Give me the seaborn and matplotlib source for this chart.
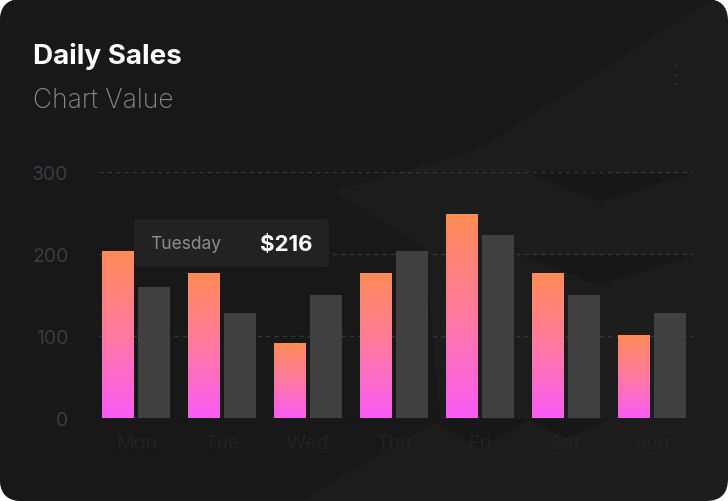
import numpy as np
import pandas as pd
import matplotlib
matplotlib.use("Agg")
import matplotlib.pyplot as plt
import seaborn as sns
from matplotlib.patches import FancyBboxPatch, Polygon, Circle
from matplotlib.colors import LinearSegmentedColormap

# ---- data ----
days = ["Mon", "Tue", "Wed", "Thu", "Fri", "Sat", "Sun"]
current = [204, 177, 92, 177, 248, 177, 101]
previous = [160, 128, 150, 204, 223, 150, 128]
series_names = ["Current", "Previous"]
y_ticks = [0, 100, 200, 300]
title = "Daily Sales"
subtitle = "Chart Value"
tip_label = "Tuesday"
tip_value = "$216"

df = pd.DataFrame({
    "day": days * 2,
    "series": [series_names[0]] * len(days) + [series_names[1]] * len(days),
    "value": current + previous,
})

W, H = 728, 502
sns.set_theme(style="dark")
plt.rcParams["font.family"] = ["Inter", "DejaVu Sans"]

fig = plt.figure(figsize=(W / 100, H / 100), dpi=100)
fig.patch.set_facecolor("white")

# ---- background card (pixel coordinates) ----
bg = fig.add_axes([0, 0, 1, 1])
bg.set_xlim(0, W)
bg.set_ylim(H, 0)
bg.axis("off")
card = FancyBboxPatch((0, 0), W, H, boxstyle="round,pad=0,rounding_size=22",
                      facecolor="#1c1c1c", edgecolor="none")
bg.add_patch(card)
dark = Polygon([(0, 0), (712, 0), (480, 150), (335, 192), (425, 250), (440, 420),
                (300, H), (0, H)],
               closed=True, facecolor="#181818", edgecolor="none")
bg.add_patch(dark)
dark.set_clip_path(card)
for pts in ([(525, 173), (697, 173), (600, 203)],
            [(520, 256), (697, 256), (598, 286)],
            [(430, 420), (530, 420), (480, 450)],
            [(525, 420), (610, 420), (566, 440)]):
    p = Polygon(pts, closed=True, facecolor="#171717", edgecolor="none")
    bg.add_patch(p)

# title / subtitle
bg.text(33, 57, title, color="white", fontsize=20, fontweight="bold", va="center", ha="left")
bg.text(33, 101, subtitle, color="#8a8a8a", fontsize=19, fontweight="light", va="center", ha="left")
# menu dots
for yy in (66, 76, 85):
    bg.add_patch(Circle((677, yy), 1.4, facecolor="#2c2c2c", edgecolor="none"))

# ---- chart axes ----
left, right = 99, 694
top, bottom = 172.7, 419.3
ax = fig.add_axes([left / W, (H - bottom) / H, (right - left) / W, (bottom - top) / H])
ax.set_facecolor("none")

sns.barplot(data=df, x="day", y="value", hue="series", order=days,
            hue_order=series_names, palette=["#ff8c55", "#404040"],
            width=0.84, gap=0.12, legend=False, ax=ax, zorder=3,
            saturation=1, linewidth=0, errorbar=None)

ax.set_ylim(0, 300)
ax.set_xlim(-0.433, 6.487)
ax.set_yticks(y_ticks)
ax.yaxis.grid(True, color="#363636", linestyle=(0, (3, 3)), linewidth=1, zorder=0)
ax.xaxis.grid(False)
ax.set_axisbelow(True)
for s in ax.spines.values():
    s.set_visible(False)
ax.set_xlabel("")
ax.set_ylabel("")
ax.tick_params(axis="y", colors="#3b3b44", labelsize=14, pad=22, length=0)
ax.tick_params(axis="x", colors="#222222", labelsize=14, pad=11, length=0)

# gradient fill for the current-series bars
cmap = LinearSegmentedColormap.from_list("g", ["#f95cf5", "#ff7aa0", "#ff8c55"])
grad = np.linspace(0, 1, 256).reshape(-1, 1)
n = len(days)
for patch in ax.patches[:n]:
    x0, y0 = patch.get_x(), patch.get_y()
    w, h = patch.get_width(), patch.get_height()
    im = ax.imshow(grad, extent=[x0, x0 + w, y0, y0 + h], origin="lower",
                   cmap=cmap, aspect="auto", zorder=3.5, interpolation="bicubic")
    im.set_clip_path(patch)
    patch.set_facecolor("none")
ax.set_ylim(0, 300)
ax.set_xlim(-0.433, 6.487)

# ---- tooltip ----
tip = FancyBboxPatch((134, 220), 195, 48, boxstyle="round,pad=0,rounding_size=4",
                     facecolor="#222222", edgecolor="none", zorder=10)
ov = fig.add_axes([0, 0, 1, 1])
ov.set_xlim(0, W)
ov.set_ylim(H, 0)
ov.axis("off")
ov.add_patch(tip)
ov.text(150, 245, tip_label, color="#8c8c8c", fontsize=12.5, va="center", ha="left", zorder=11)
ov.text(260, 245, tip_value, color="white", fontsize=16, fontweight="bold", va="center", ha="left", zorder=11)

fig.savefig("out.png", dpi=100, facecolor="white")
